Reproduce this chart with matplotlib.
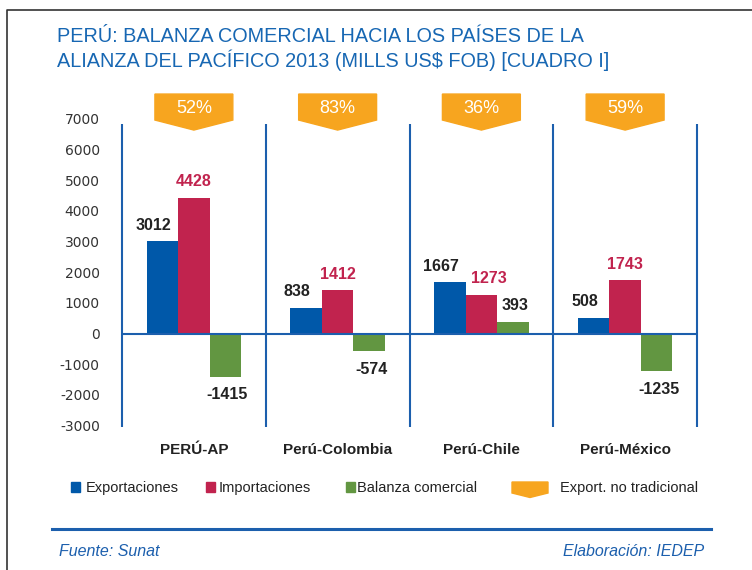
import matplotlib.pyplot as plt
from matplotlib.patches import Polygon, Rectangle
from matplotlib.lines import Line2D

plt.rcParams["axes.unicode_minus"] = False

# datos
categorias = ["PERÚ-AP", "Perú-Colombia", "Perú-Chile", "Perú-México"]
exportaciones = [3012, 838, 1667, 508]
importaciones = [4428, 1412, 1273, 1743]
balanza = [-1415, -574, 393, -1235]
no_tradicional = ["52%", "83%", "36%", "59%"]
yticks = list(range(-3000, 8000, 1000))

AZUL = "#0058a9"
ROJO = "#c1234e"
VERDE = "#629641"
NARANJA = "#f7a51f"
LINEA = "#1c5fad"
TEXTO = "#222222"

NARROW = ["Liberation Sans Narrow", "Liberation Sans", "DejaVu Sans"]
SANS = ["Liberation Sans", "DejaVu Sans"]

fig = plt.figure(figsize=(7.52, 5.70), dpi=100)
ax = fig.add_axes([122 / 752, 1 - 425.5 / 570, 575 / 752, 306.5 / 570])
ax.set_xlim(-0.5, 3.5)
ax.set_ylim(-3000, 7000)
for s in ax.spines.values():
    s.set_visible(False)
ax.set_xticks([])
ax.set_yticks(yticks)
ax.tick_params(axis="y", length=0, pad=16, labelsize=10, labelcolor="#333333")

ancho = 0.219
x = list(range(len(categorias)))

series = [
    (exportaciones, -ancho, AZUL, TEXTO, -9),
    (importaciones, 0, ROJO, ROJO, 0),
    (balanza, ancho, VERDE, TEXTO, 2),
]
for valores, desp, color, color_txt, dx in series:
    pos = [i + desp for i in x]
    ax.bar(pos, valores, width=ancho, color=color, zorder=2)
    for i, (p, v) in enumerate(zip(pos, valores)):
        nudge = dx
        if color == ROJO and exportaciones[i] > v:
            nudge = 7  # corrido a la derecha para no chocar con la etiqueta azul
        dy = 16 if v >= 0 else -18
        ax.annotate(str(v), (p, v), xytext=(nudge, dy), textcoords="offset pixels",
                    ha="center", va="center", fontsize=11.5, fontweight="bold",
                    color=color_txt, family=SANS, zorder=3)

# lineas de separacion y eje cero
ax.vlines([i - 0.5 for i in range(len(categorias) + 1)], -3050, 6840,
          color=LINEA, lw=1.5, clip_on=False, zorder=1)
ax.axhline(0, color=LINEA, lw=1.5, zorder=3)

# etiquetas de categoria
for i, c in enumerate(categorias):
    ax.annotate(c, (i, -3000), xytext=(0, -24), textcoords="offset pixels",
                ha="center", va="center", fontsize=11, fontweight="bold",
                color=TEXTO, family=SANS, annotation_clip=False)

# flechas naranjas (export. no tradicional)
w = 0.271
for i, t in enumerate(no_tradicional):
    pts = [(i - w, 7814), (i + w, 7814), (i + w, 6966), (i, 6639), (i - w, 6966)]
    ax.add_patch(Polygon(pts, closed=True, color=NARANJA, clip_on=False, zorder=2))
    ax.text(i, 7341, t, ha="center", va="center", color="white",
            fontsize=13, family=SANS, clip_on=False, zorder=3)

# titulo
fig.text(57 / 752, 1 - 42 / 570, "PERÚ: BALANZA COMERCIAL HACIA LOS PAÍSES DE LA",
         color="#1767b3", fontsize=14.3, family=SANS, ha="left", va="baseline")
fig.text(57 / 752, 1 - 67 / 570, "ALIANZA DEL PACÍFICO 2013 (MILLS US$ FOB) [CUADRO I]",
         color="#1767b3", fontsize=14.3, family=SANS, ha="left", va="baseline")

# leyenda manual
ley_base = 492
items = [(71, 86, AZUL, "Exportaciones"), (206, 219, ROJO, "Importaciones"),
         (346, 357, VERDE, "Balanza comercial")]
for xc, xt, col, txt in items:
    fig.patches.append(Rectangle((xc / 752, 1 - 492 / 570), 9 / 752, 10 / 570,
                                 color=col, transform=fig.transFigure))
    fig.text(xt / 752, 1 - ley_base / 570, txt, ha="left", va="baseline", fontsize=10.5,
             family=NARROW, color=TEXTO)
flecha = [(512, 482), (548, 482), (548, 493), (530, 497.5), (512, 493)]
fig.patches.append(Polygon([(a / 752, 1 - b / 570) for a, b in flecha], closed=True,
                           color=NARANJA, transform=fig.transFigure))
fig.text(560 / 752, 1 - ley_base / 570, "Export. no tradicional", ha="left", va="baseline",
         fontsize=10.5, family=NARROW, color=TEXTO)

# linea inferior y fuentes
fig.lines.append(Line2D([52 / 752, 711 / 752], [1 - 529 / 570] * 2, color=LINEA, lw=2.2,
                        transform=fig.transFigure))
fig.text(59 / 752, 1 - 556 / 570, "Fuente: Sunat", ha="left", va="baseline", style="italic",
         fontsize=11.5, family=NARROW, color=LINEA)
fig.text(704 / 752, 1 - 556 / 570, "Elaboración: IEDEP", ha="right", va="baseline",
         style="italic", fontsize=11.5, family=NARROW, color=LINEA)

# marco
fig.lines.append(Line2D([7 / 752, 7 / 752, 1.0], [0.0, 1 - 10 / 570, 1 - 10 / 570],
                        color="#333333", lw=1.2, transform=fig.transFigure))

fig.savefig("out.png", dpi=100)
